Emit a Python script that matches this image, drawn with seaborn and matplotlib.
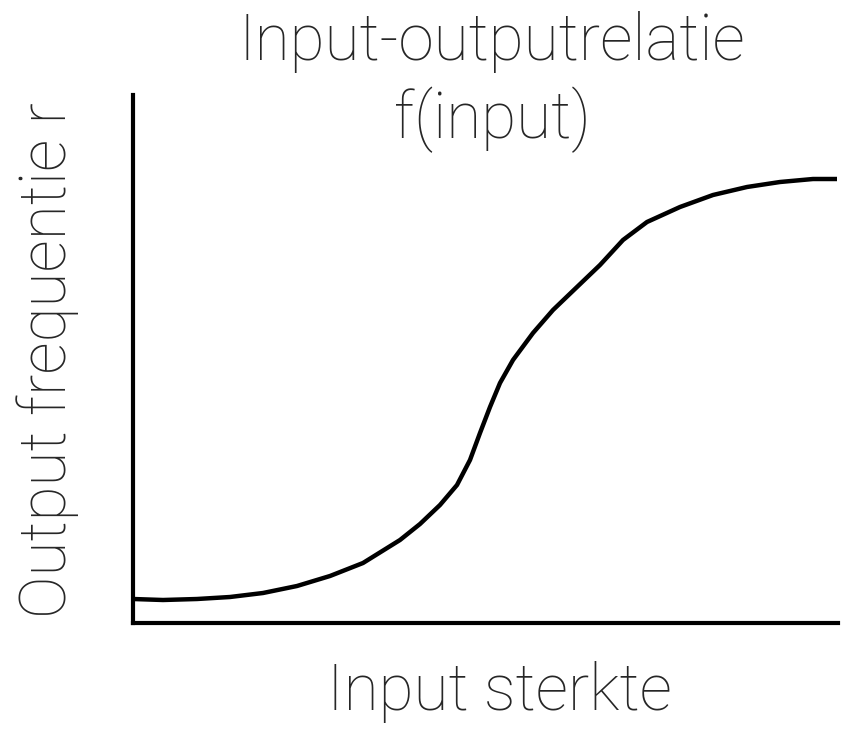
import matplotlib.pyplot as plt
import seaborn as sns
import pandas as pd

# punten van de curve (willekeurige eenheden)
input_sterkte = [0, 30, 64, 97, 130, 164, 197, 230, 267, 287, 307, 324, 337, 347, 357,
                 367, 380, 400, 420, 444, 467, 490, 514, 547, 580, 614, 647, 680, 704]
output_freq = [24, 23, 24, 26, 30, 37, 47, 60, 83, 99, 118, 138, 163, 190, 216,
               240, 263, 290, 313, 336, 358, 383, 401, 416, 428, 436, 441, 444, 444]

titel = ["Input-outputrelatie", "f(input)"]
x_label = "Input sterkte"
y_label = "Output frequentie r"

df = pd.DataFrame({"input": input_sterkte, "output": output_freq})

sns.set_style("white")
plt.rcParams['font.family'] = ['Roboto', 'DejaVu Sans']

W, H = 856, 729
fig = plt.figure(figsize=(W / 100, H / 100), dpi=100)
ax = fig.add_axes([133 / W, 106 / H, 705 / W, 528 / H])

sns.lineplot(data=df, x="input", y="output", ax=ax, color="black", linewidth=3.2,
             sort=False, solid_joinstyle="round", solid_capstyle="butt")

ax.set_xlim(0, 705)
ax.set_ylim(0, 528)
ax.set_xticks([])
ax.set_yticks([])
ax.set_xlabel("")
ax.set_ylabel("")
for s in ["top", "right"]:
    ax.spines[s].set_visible(False)
for s in ["left", "bottom"]:
    ax.spines[s].set_color("black")
    ax.spines[s].set_linewidth(3)

# titel in twee regels, op de basislijn geplaatst
fig.text(492 / W, 1 - 60 / H, titel[0], ha="center", va="baseline",
         fontsize=46, fontweight="light")
fig.text(492 / W, 1 - 138 / H, titel[1], ha="center", va="baseline",
         fontsize=46, fontweight="light")
fig.text(499 / W, 1 - 710 / H, x_label, ha="center", va="baseline",
         fontsize=46, fontweight="light")
fig.text(66 / W, 1 - 360 / H, y_label, ha="center", va="baseline",
         rotation=90, rotation_mode="anchor", fontsize=46, fontweight="light")

plt.savefig("out.png", dpi=100)
